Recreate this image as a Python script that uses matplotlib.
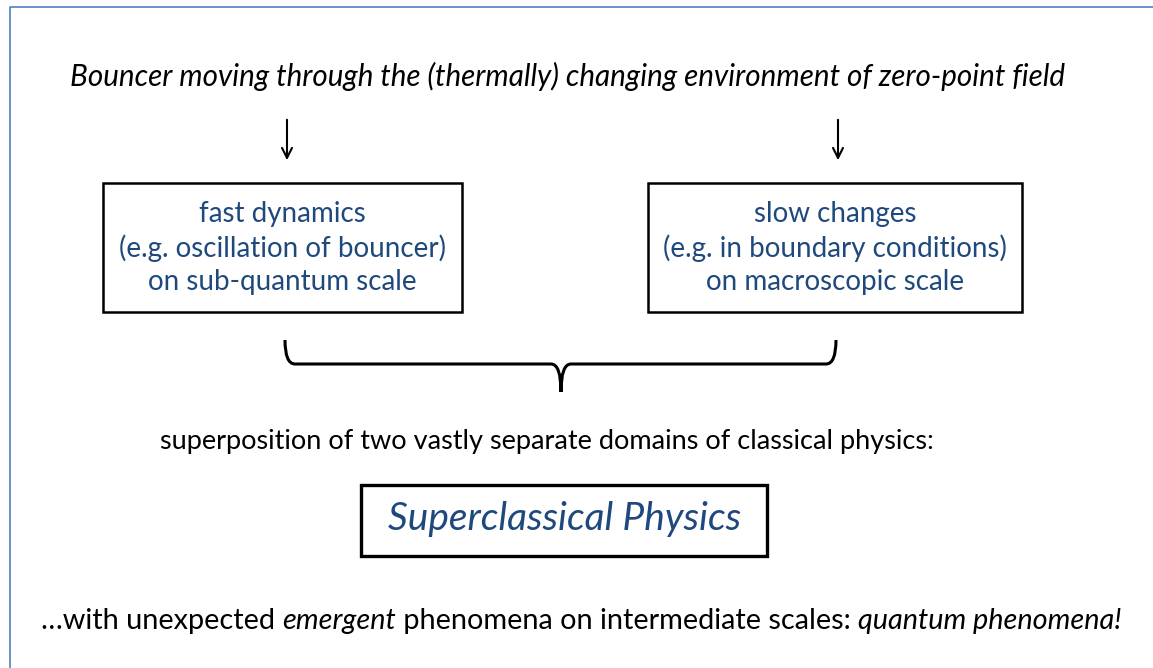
import matplotlib
matplotlib.use("Agg")
import matplotlib.pyplot as plt
from matplotlib.patches import Rectangle
from matplotlib.path import Path
from matplotlib.patches import PathPatch

# texts of the diagram
title = "Bouncer moving through the (thermally) changing environment of zero-point field"
left_lines = ["fast dynamics", "(e.g. oscillation of bouncer)", "on sub-quantum scale"]
right_lines = ["slow changes", "(e.g. in boundary conditions)", "on macroscopic scale"]
middle = "superposition of two vastly separate domains of classical physics:"
core = "Superclassical Physics"
bottom_parts = [("\u2026with unexpected ", "normal"), ("emergent", "italic"),
                (" phenomena on intermediate scales: ", "normal"),
                ("quantum phenomena!", "italic")]

BLUE = "#1f497d"
FONT = "Lato"

W, H = 1153, 668
fig = plt.figure(figsize=(W / 100, H / 100), dpi=100)
ax = fig.add_axes([0, 0, 1, 1])
ax.set_xlim(0, W)
ax.set_ylim(H, 0)
ax.axis("off")

# frame (only top and left visible)
ax.plot([10, 10, W + 5], [H + 5, 7, 7], color="#4f81bd", lw=1.2)

ax.text(567, 76, title, ha="center", va="center", fontsize=21.3,
        style="italic", family=FONT)

# arrows
for x in (287, 838):
    ax.annotate("", xy=(x, 163), xytext=(x, 117),
                arrowprops=dict(arrowstyle="->", lw=1.5, color="black",
                                mutation_scale=18))

# boxes
for (x0, x1), lines in (((103, 462), left_lines), ((648, 1022), right_lines)):
    ax.add_patch(Rectangle((x0, 183), x1 - x0, 129, fill=False, lw=1.8, ec="black"))
    cx = (x0 + x1) / 2
    for i, s in enumerate(lines):
        ax.text(cx, 214 + i * 34, s, ha="center", va="center", fontsize=20,
                color=BLUE, family=FONT)

# brace
xl, xr, xm = 285, 836, 561
yt, yh, yb = 340, 364, 392
codes = [Path.MOVETO, Path.CURVE3, Path.CURVE3, Path.LINETO,
         Path.CURVE3, Path.CURVE3, Path.LINETO,
         Path.MOVETO, Path.CURVE3, Path.CURVE3, Path.LINETO,
         Path.CURVE3, Path.CURVE3]
verts = [(xl, yt), (xl, yh), (xl + 10, yh), (xm - 10, yh),
         (xm, yh), (xm, yb), (xm, yb),
         (xm, yb), (xm, yh), (xm + 10, yh), (xr - 10, yh),
         (xr, yh), (xr, yt)]
ax.add_patch(PathPatch(Path(verts, codes), fill=False, lw=2.2, ec="black"))

ax.text(547, 442, middle, ha="center", va="center", fontsize=19.5, family=FONT)

ax.add_patch(Rectangle((361, 485), 406, 71, fill=False, lw=2.4, ec="black"))
ax.text(565, 519, core, ha="center", va="center", fontsize=28,
        style="italic", color=BLUE, family=FONT)

# bottom line with mixed styles
fig.canvas.draw()
r = fig.canvas.get_renderer()
arts = []
for s, st in bottom_parts:
    arts.append(ax.text(0, 621, s, ha="left", va="center", fontsize=20.8,
                        style=st, family=FONT))
widths = [a.get_window_extent(r).width for a in arts]
x = 581 - sum(widths) / 2
for a, w in zip(arts, widths):
    a.set_x(x)
    x += w

fig.savefig("out.png", dpi=100)
